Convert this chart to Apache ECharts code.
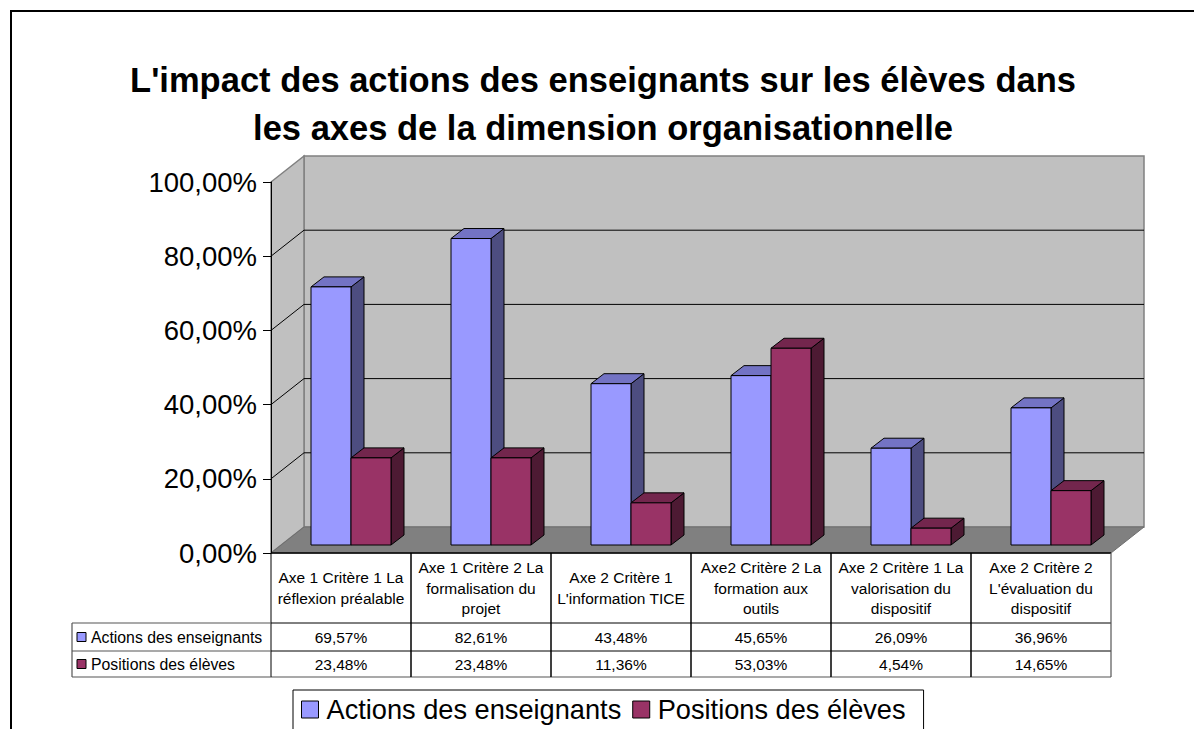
<!DOCTYPE html>
<html>
<head>
<meta charset="utf-8">
<script src="https://cdn.jsdelivr.net/npm/echarts@6/dist/echarts.min.js"></script>
<style>
  html, body { margin: 0; padding: 0; background: #ffffff; }
  #chart { width: 1194px; height: 729px; }
</style>
</head>
<body>
<div id="chart"></div>
<script>
// ---- data ----
const categories = [
  'Axe 1 Critère 1 La\nréflexion préalable',
  'Axe 1 Critère 2 La\nformalisation du\nprojet',
  'Axe 2 Critère 1\nL\'information TICE',
  'Axe2 Critère 2 La\nformation aux\noutils',
  'Axe 2 Critère 1 La\nvalorisation du\ndispositif',
  'Axe 2 Critère 2\nL\'évaluation du\ndispositif'
];
const seriesNames = ['Actions des enseignants', 'Positions des élèves'];
const actionsEnseignants = [69.57, 82.61, 43.48, 45.65, 26.09, 36.96];
const positionsEleves = [23.48, 23.48, 11.36, 53.03, 4.54, 14.65];
const yTicks = [0, 20, 40, 60, 80, 100];
const chartTitle = 'L\'impact des actions des enseignants sur les élèves dans\nles axes de la dimension organisationnelle';

// ---- look ----
const FONT = '"Liberation Sans", Arial, Helvetica, sans-serif';
const WALL = [33, -26];        // depth of the 3-D box (back wall offset)
const BAR_FRONT = [10, -8];    // front face of the bars inside the box
const BAR_DEPTH = [13, -10];   // thickness of each bar
const BAR_W = 40;
const TABLE_ROWS = [70, 28, 26]; // header, first series row, second series row
const KEY_LEFT = 72;
const seriesColors = [
  { front: '#9999FF', top: '#7373C4', side: '#4D4D80' },
  { front: '#993366', top: '#73264D', side: '#4D1A33' }
];
const seriesValues = [actionsEnseignants, positionsEleves];

const pct = v => v.toFixed(2).replace('.', ',') + '%';

// back wall, side wall, floor and gridlines of the 3-D box
function renderBox(params, api) {
  const bw = api.size([1, 0])[0];
  const L = api.coord([0, 0])[0] - bw / 2;
  const R = api.coord([categories.length - 1, 0])[0] + bw / 2;
  const y0 = api.coord([0, yTicks[0]])[1];
  const yT = api.coord([0, yTicks[yTicks.length - 1]])[1];
  const dx = WALL[0], dy = WALL[1];
  const wallStyle = { fill: '#C0C0C0', stroke: '#808080', lineWidth: 1.5 };
  const children = [
    { type: 'polygon', shape: { points: [[L + dx, yT + dy], [R + dx, yT + dy], [R + dx, y0 + dy], [L + dx, y0 + dy]] }, style: wallStyle },
    { type: 'polygon', shape: { points: [[L, yT], [L + dx, yT + dy], [L + dx, y0 + dy], [L, y0]] }, style: wallStyle },
    { type: 'polygon', shape: { points: [[L, y0], [L + dx, y0 + dy], [R + dx, y0 + dy], [R, y0]] }, style: { fill: '#808080', stroke: '#6E6E6E', lineWidth: 1 } }
  ];
  yTicks.slice(1, -1).forEach(t => {
    const y = api.coord([0, t])[1];
    children.push({ type: 'line', shape: { x1: L + dx, y1: y + dy, x2: R + dx, y2: y + dy }, style: { stroke: '#000', lineWidth: 1 } });
    children.push({ type: 'line', shape: { x1: L, y1: y, x2: L + dx, y2: y + dy }, style: { stroke: '#000', lineWidth: 1 } });
  });
  return { type: 'group', children };
}

// one 3-D column: front face, top and right side
function barRenderer(slot) {
  const col = seriesColors[slot];
  return function (params, api) {
    const i = api.value(0), v = api.value(1);
    const top = api.coord([i, v]);
    const base = api.coord([i, 0]);
    const x0 = top[0] + (slot === 0 ? -BAR_W : 0) + BAR_FRONT[0];
    const x1 = x0 + BAR_W;
    const yt = top[1] + BAR_FRONT[1];
    const yb = base[1] + BAR_FRONT[1];
    const ddx = BAR_DEPTH[0], ddy = BAR_DEPTH[1];
    const edge = { stroke: '#000', lineWidth: 1, lineJoin: 'round' };
    return {
      type: 'group',
      children: [
        { type: 'polygon', shape: { points: [[x1, yt], [x1 + ddx, yt + ddy], [x1 + ddx, yb + ddy], [x1, yb]] }, style: Object.assign({ fill: col.side }, edge) },
        { type: 'polygon', shape: { points: [[x0, yt], [x0 + ddx, yt + ddy], [x1 + ddx, yt + ddy], [x1, yt]] }, style: Object.assign({ fill: col.top }, edge) },
        { type: 'polygon', shape: { points: [[x0, yt], [x1, yt], [x1, yb], [x0, yb]] }, style: Object.assign({ fill: col.front }, edge) }
      ]
    };
  };
}

// data table under the plot: one column per category, plus the key column
function renderTable(params, api) {
  const i = api.value(0);
  const bw = api.size([1, 0])[0];
  const cx = api.coord([i, 0])[0];
  const y0 = api.coord([i, 0])[1];
  const xl = cx - bw / 2, xr = cx + bw / 2;
  const r1 = y0 + TABLE_ROWS[0], r2 = r1 + TABLE_ROWS[1], r3 = r2 + TABLE_ROWS[2];
  const inner = { stroke: '#000', lineWidth: 1 };
  const outer = { stroke: '#555', lineWidth: 1.2 };
  const last = i === categories.length - 1;
  const children = [
    { type: 'line', shape: { x1: xl, y1: y0, x2: xr, y2: y0 }, style: { stroke: '#000', lineWidth: 1.5 } },
    { type: 'line', shape: { x1: xl, y1: r1, x2: xr, y2: r1 }, style: inner },
    { type: 'line', shape: { x1: xl, y1: r2, x2: xr, y2: r2 }, style: inner },
    { type: 'line', shape: { x1: xl, y1: r3, x2: xr, y2: r3 }, style: outer },
    { type: 'line', shape: { x1: xl, y1: y0, x2: xl, y2: r3 }, style: inner },
    { type: 'line', shape: { x1: xr, y1: y0, x2: xr, y2: r3 }, style: last ? outer : inner },
    { type: 'text', style: { text: categories[i], x: cx, y: (y0 + r1) / 2, align: 'center', verticalAlign: 'middle', fontSize: 15.5, lineHeight: 20.5, fontFamily: FONT, fill: '#000' } },
    { type: 'text', style: { text: pct(seriesValues[0][i]), x: cx, y: (r1 + r2) / 2, align: 'center', verticalAlign: 'middle', fontSize: 15.5, fontFamily: FONT, fill: '#000' } },
    { type: 'text', style: { text: pct(seriesValues[1][i]), x: cx, y: (r2 + r3) / 2, align: 'center', verticalAlign: 'middle', fontSize: 15.5, fontFamily: FONT, fill: '#000' } }
  ];
  if (i === 0) {
    children.push(
      { type: 'line', shape: { x1: KEY_LEFT, y1: r1, x2: xl, y2: r1 }, style: outer },
      { type: 'line', shape: { x1: KEY_LEFT, y1: r2, x2: xl, y2: r2 }, style: outer },
      { type: 'line', shape: { x1: KEY_LEFT, y1: r3, x2: xl, y2: r3 }, style: outer },
      { type: 'line', shape: { x1: KEY_LEFT, y1: r1, x2: KEY_LEFT, y2: r3 }, style: outer }
    );
    [[r1, r2], [r2, r3]].forEach((row, k) => {
      const ym = (row[0] + row[1]) / 2;
      children.push(
        { type: 'rect', shape: { x: KEY_LEFT + 5, y: ym - 4.5, width: 9, height: 9 }, style: { fill: seriesColors[k].front, stroke: '#000', lineWidth: 1 } },
        { type: 'text', style: { text: seriesNames[k], x: KEY_LEFT + 19, y: ym, align: 'left', verticalAlign: 'middle', fontSize: 15.8, fontFamily: FONT, fill: '#000' } }
      );
    });
  }
  return { type: 'group', children };
}

const chart = echarts.init(document.getElementById('chart'), null, { renderer: 'svg' });

chart.setOption({
  animation: false,
  backgroundColor: '#ffffff',
  title: {
    text: chartTitle,
    left: 603,
    top: 56,
    padding: 0,
    textAlign: 'center',
    textStyle: { fontFamily: FONT, fontSize: 34.5, fontWeight: 'bold', lineHeight: 48, color: '#000' }
  },
  graphic: [
    { type: 'polyline', shape: { points: [[11, 729], [11, 11], [1194, 11]] }, style: { stroke: '#000', lineWidth: 2, fill: null }, z: 100 }
  ],
  legend: {
    data: seriesNames,
    left: 293,
    top: 690,
    padding: [6, 18, 20, 8],
    itemGap: 11,
    itemWidth: 17,
    itemHeight: 17,
    icon: 'rect',
    borderColor: '#000',
    borderWidth: 1,
    selectedMode: false,
    itemStyle: { borderColor: '#000', borderWidth: 1 },
    textStyle: { fontFamily: FONT, fontSize: 27.2, color: '#000', padding: [0, 0, 0, 3] }
  },
  grid: { left: 271, top: 182, width: 840, height: 371, containLabel: false },
  xAxis: {
    type: 'category',
    data: categories,
    axisLine: { show: false },
    axisTick: { show: false },
    axisLabel: { show: false },
    splitLine: { show: false }
  },
  yAxis: {
    type: 'value',
    min: 0,
    max: 100,
    interval: 20,
    z: 10,
    axisLine: { show: true, lineStyle: { color: '#000', width: 1 } },
    axisTick: { show: true, length: 8, lineStyle: { color: '#000' } },
    axisLabel: { formatter: v => pct(v), fontFamily: FONT, fontSize: 27.5, color: '#000', margin: 14 },
    splitLine: { show: false }
  },
  series: [
    { type: 'custom', name: 'box', z: 1, silent: true, renderItem: renderBox, data: [[0, 0]] },
    {
      type: 'custom', name: seriesNames[0], z: 2,
      itemStyle: { color: seriesColors[0].front },
      renderItem: barRenderer(0),
      encode: { x: 0, y: 1 },
      data: actionsEnseignants.map((v, i) => [i, v])
    },
    {
      type: 'custom', name: seriesNames[1], z: 3,
      itemStyle: { color: seriesColors[1].front },
      renderItem: barRenderer(1),
      encode: { x: 0, y: 1 },
      data: positionsEleves.map((v, i) => [i, v])
    },
    { type: 'custom', name: 'table', z: 4, silent: true, renderItem: renderTable, data: categories.map((c, i) => [i, 0]) }
  ]
});
</script>
</body>
</html>
